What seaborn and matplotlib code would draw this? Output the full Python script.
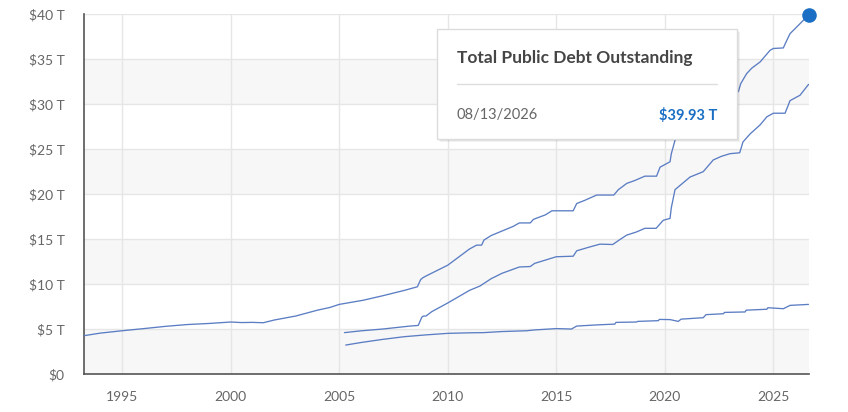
import numpy as np
import pandas as pd
import matplotlib
matplotlib.use("Agg")
import matplotlib.pyplot as plt
from matplotlib.patches import Rectangle
from matplotlib.lines import Line2D
import seaborn as sns

# ---------------- data (years as decimal, values in trillions USD) ----------------
total_years = [1993.24, 1994, 1995, 1996, 1997, 1998, 1999, 2000, 2000.5, 2001, 2001.5, 2002, 2003, 2004,
               2004.57, 2005, 2006.1, 2007, 2008, 2008.6, 2008.75, 2008.85, 2009, 2009.5, 2010, 2010.5,
               2011, 2011.33, 2011.56, 2011.67, 2012, 2012.5, 2013, 2013.3, 2013.8, 2013.95, 2014.5,
               2014.8, 2015.78, 2015.94, 2016.3, 2016.86, 2017.65, 2017.86, 2018.25, 2018.6, 2019.08,
               2019.62, 2019.78, 2020.24, 2020.3, 2020.47, 2020.7, 2021, 2021.5, 2021.9, 2022.2, 2022.5,
               2023.0, 2023.39, 2023.5, 2023.77, 2024.0, 2024.39, 2024.85, 2025.0, 2025.46, 2025.6,
               2025.77, 2026.23, 2026.45, 2026.62]
total_vals = [4.26, 4.55, 4.81, 5.05, 5.3, 5.5, 5.62, 5.78, 5.72, 5.74, 5.7, 6.0, 6.45, 7.1,
              7.4, 7.74, 8.2, 8.7, 9.3, 9.7, 10.5, 10.7, 10.9, 11.5, 12.1, 13.0,
              13.9, 14.33, 14.33, 14.9, 15.4, 15.9, 16.4, 16.8, 16.8, 17.2, 17.7,
              18.15, 18.15, 18.96, 19.3, 19.9, 19.9, 20.5, 21.2, 21.5, 22.0,
              22.0, 23.0, 23.6, 24.5, 26.0, 26.8, 27.8, 28.4, 28.9, 30.2, 30.6,
              31.4, 31.4, 32.3, 33.4, 34.0, 34.7, 36.0, 36.2, 36.26, 37.0,
              37.85, 38.96, 39.5, 39.93]

public_years = [2005.24, 2006, 2007, 2008.26, 2008.64, 2008.8, 2008.87, 2009.0, 2009.26, 2010, 2010.5,
                2011.0, 2011.48, 2012, 2012.5, 2013.3, 2013.8, 2014.0, 2015, 2015.78, 2015.94, 2016.5,
                2017.01, 2017.6, 2017.9, 2018.24, 2018.7, 2019.08, 2019.6, 2019.93, 2020.24, 2020.3,
                2020.47, 2021.16, 2021.77, 2022.23, 2022.6, 2023.0, 2023.45, 2023.6, 2023.93, 2024.39,
                2024.7, 2025.0, 2025.54, 2025.77, 2026.23, 2026.62]
public_vals = [4.6, 4.8, 5.0, 5.33, 5.4, 6.3, 6.44, 6.45, 6.93, 7.9, 8.6,
               9.3, 9.78, 10.6, 11.2, 11.9, 11.95, 12.3, 13.04, 13.1, 13.7, 14.1,
               14.44, 14.4, 14.9, 15.44, 15.8, 16.2, 16.2, 17.1, 17.3, 18.5,
               20.5, 21.9, 22.5, 23.8, 24.2, 24.5, 24.6, 25.8, 26.7, 27.7,
               28.6, 29.0, 29.0, 30.4, 31.0, 32.2]

intragov_years = [2005.3, 2006, 2007, 2008, 2009, 2010, 2011, 2011.64, 2012.5, 2013.63, 2014, 2015, 2015.7,
                  2015.94, 2016.8, 2017.7, 2017.75, 2018.7, 2018.75, 2019.7, 2019.75, 2020.24, 2020.62,
                  2020.75, 2021.77, 2021.9, 2022.7, 2022.75, 2023.7, 2023.75, 2024.7, 2024.75, 2025.46,
                  2025.77, 2026.62]
intragov_vals = [3.22, 3.5, 3.85, 4.15, 4.35, 4.52, 4.58, 4.6, 4.72, 4.81, 4.9, 5.05, 5.0,
                 5.33, 5.45, 5.55, 5.74, 5.78, 5.85, 5.93, 6.07, 6.05, 5.85,
                 6.1, 6.26, 6.6, 6.7, 6.85, 6.9, 7.1, 7.2, 7.37, 7.26,
                 7.63, 7.74]

y_ticks = [0, 5, 10, 15, 20, 25, 30, 35, 40]
y_labels = ["$0", "$5 T", "$10 T", "$15 T", "$20 T", "$25 T", "$30 T", "$35 T", "$40 T"]
x_ticks = [1995, 2000, 2005, 2010, 2015, 2020, 2025]

tooltip_title = "Total Public Debt Outstanding"
tooltip_date = "08/13/2026"
tooltip_value = "$39.93 T"

# ---------------- styling ----------------
sns.set_theme(style="white")
plt.rcParams["font.family"] = ["Lato", "DejaVu Sans"]

W, H = 848, 412
fig = plt.figure(figsize=(W / 100, H / 100), dpi=100)
ax = fig.add_axes([84 / W, 1 - 374 / H, (808.5 - 84) / W, (374 - 14.3) / H])

LINE = "#5b7dc3"
GRID = "#e6e6e6"
BAND = "#f7f7f7"

for lo in (0, 10, 20, 30):
    ax.axhspan(lo, lo + 5, color=BAND, zorder=0, lw=0)

df = pd.concat([
    pd.DataFrame({"year": total_years, "value": total_vals, "series": "total"}),
    pd.DataFrame({"year": public_years, "value": public_vals, "series": "public"}),
    pd.DataFrame({"year": intragov_years, "value": intragov_vals, "series": "intragov"}),
])
sns.lineplot(data=df, x="year", y="value", units="series", estimator=None,
             color=LINE, lw=0.95, ax=ax, zorder=3, sort=False)

ax.set_xlim(1993.24, 2026.62)
ax.set_ylim(0, 40)
ax.set_yticks(y_ticks)
ax.set_yticklabels(y_labels)
ax.set_xticks(x_ticks)
ax.set_xticklabels([str(t) for t in x_ticks])
ax.set_xlabel("")
ax.set_ylabel("")
ax.grid(True, color=GRID, lw=1.0, zorder=1)
ax.set_axisbelow(True)
ax.tick_params(axis="both", length=0, labelsize=10, colors="#666666")
ax.tick_params(axis="y", pad=14)
ax.tick_params(axis="x", pad=12)
for s in ("top", "right"):
    ax.spines[s].set_visible(False)
for s in ("left", "bottom"):
    ax.spines[s].set_color("#555555")
    ax.spines[s].set_linewidth(1.2)
if ax.get_legend():
    ax.get_legend().remove()

# end-point marker
ax.scatter([total_years[-1]], [total_vals[-1]], s=110, color="#1a6fc4", zorder=6, clip_on=False, lw=0)

# ---------------- tooltip ----------------
def fx(px):
    return px / W

def fy(py):
    return 1 - py / H

bx0, bx1, by0, by1 = 437, 737, 29.3, 139.3
for off, a in ((3, 0.05), (2, 0.06), (1, 0.07)):
    fig.add_artist(Rectangle((fx(bx0 + off), fy(by1 + off)), fx(bx1 - bx0), (by1 - by0) / H,
                             facecolor="black", alpha=a, lw=0, zorder=8))
fig.add_artist(Rectangle((fx(bx0), fy(by1)), fx(bx1 - bx0), (by1 - by0) / H,
                         facecolor="white", edgecolor="#dcdcdc", lw=1.0, zorder=9))
fig.add_artist(Line2D([fx(457), fx(717)], [fy(84.3), fy(84.3)], color="#dddddd", lw=1.0, zorder=10))
fig.text(fx(457), fy(58.5), tooltip_title, fontsize=12.5, fontweight="bold", color="#454545",
         ha="left", va="center", zorder=11)
fig.text(fx(457), fy(115), tooltip_date, fontsize=10.5, color="#666666",
         ha="left", va="center", zorder=11)
fig.text(fx(717), fy(115), tooltip_value, fontsize=10.5, fontweight="bold", color="#1a6fc4",
         ha="right", va="center", zorder=11)

fig.savefig("out.png", dpi=100)
